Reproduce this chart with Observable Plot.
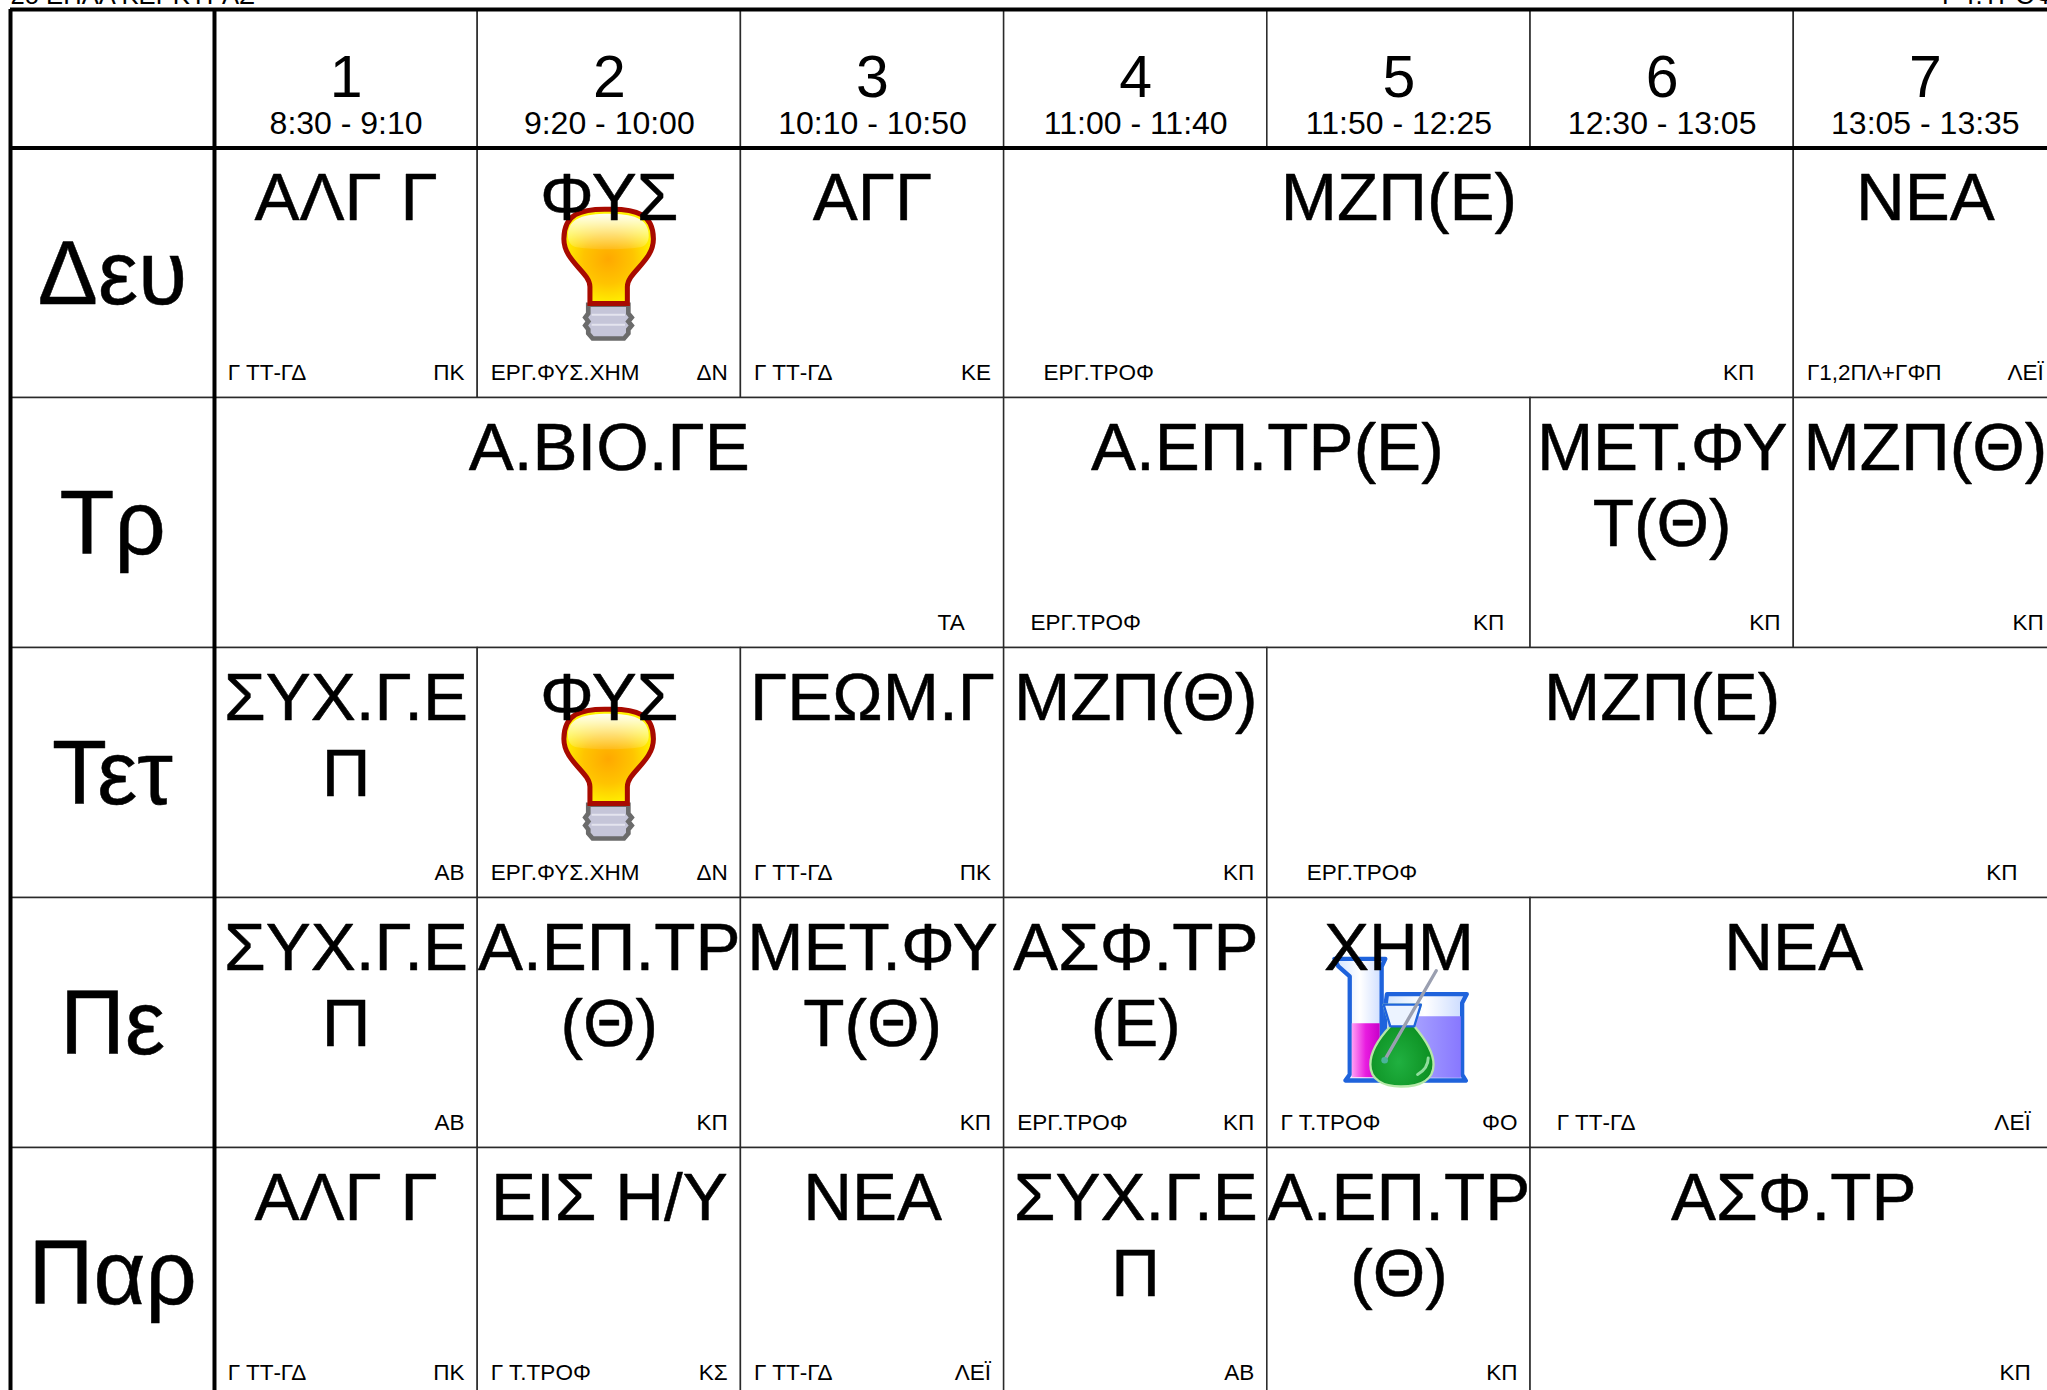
<!DOCTYPE html>
<html><head><meta charset="utf-8">
<style>html,body{margin:0;padding:0;background:#fff;overflow:hidden}svg{display:block}</style>
<script src="https://cdn.jsdelivr.net/npm/d3@7"></script>
<script src="https://cdn.jsdelivr.net/npm/@observablehq/plot@0.6"></script>
</head><body><div id="c"></div><script>
const days = ["Δευ","Τρ","Τετ","Πε","Παρ"];
const periods = ["1","2","3","4","5","6","7"];
const times = ["8:30 - 9:10","9:20 - 10:00","10:10 - 10:50","11:00 - 11:40","11:50 - 12:25","12:30 - 13:05","13:05 - 13:35"];
const topLeft = "2ο ΕΠΑΛ ΚΕΡΚΥΡΑΣ", topRight = "Γ Τ.ΤΡΟΦ";
// [day, first period, span, subject, class/room, teacher, icon]
const lessons = [
 [0,0,1,"ΑΛΓ Γ","Γ ΤΤ-ΓΔ","ΠΚ"],[0,1,1,"ΦΥΣ","ΕΡΓ.ΦΥΣ.ΧΗΜ","ΔΝ","bulb"],[0,2,1,"ΑΓΓ","Γ ΤΤ-ΓΔ","ΚΕ"],[0,3,3,"ΜΖΠ(Ε)","ΕΡΓ.ΤΡΟΦ","ΚΠ"],[0,6,1,"ΝΕΑ","Γ1,2ΠΛ+ΓΦΠ","ΛΕΪ"],
 [1,0,3,"Α.ΒΙΟ.ΓΕ","","ΤΑ"],[1,3,2,"Α.ΕΠ.ΤΡ(Ε)","ΕΡΓ.ΤΡΟΦ","ΚΠ"],[1,5,1,"ΜΕΤ.ΦΥ\nΤ(Θ)","","ΚΠ"],[1,6,1,"ΜΖΠ(Θ)","","ΚΠ"],
 [2,0,1,"ΣΥΧ.Γ.Ε\nΠ","","ΑΒ"],[2,1,1,"ΦΥΣ","ΕΡΓ.ΦΥΣ.ΧΗΜ","ΔΝ","bulb"],[2,2,1,"ΓΕΩΜ.Γ","Γ ΤΤ-ΓΔ","ΠΚ"],[2,3,1,"ΜΖΠ(Θ)","","ΚΠ"],[2,4,3,"ΜΖΠ(Ε)","ΕΡΓ.ΤΡΟΦ","ΚΠ"],
 [3,0,1,"ΣΥΧ.Γ.Ε\nΠ","","ΑΒ"],[3,1,1,"Α.ΕΠ.ΤΡ\n(Θ)","","ΚΠ"],[3,2,1,"ΜΕΤ.ΦΥ\nΤ(Θ)","","ΚΠ"],[3,3,1,"ΑΣΦ.ΤΡ\n(Ε)","ΕΡΓ.ΤΡΟΦ","ΚΠ"],[3,4,1,"ΧΗΜ","Γ Τ.ΤΡΟΦ","ΦΟ","flask"],[3,5,2,"ΝΕΑ","Γ ΤΤ-ΓΔ","ΛΕΪ"],
 [4,0,1,"ΑΛΓ Γ","Γ ΤΤ-ΓΔ","ΠΚ"],[4,1,1,"ΕΙΣ Η/Υ","Γ Τ.ΤΡΟΦ","ΚΣ"],[4,2,1,"ΝΕΑ","Γ ΤΤ-ΓΔ","ΛΕΪ"],[4,3,1,"ΣΥΧ.Γ.Ε\nΠ","","ΑΒ"],[4,4,1,"Α.ΕΠ.ΤΡ\n(Θ)","","ΚΠ"],[4,5,2,"ΑΣΦ.ΤΡ","","ΚΠ"]
];

const bulbSvg = `<svg xmlns="http://www.w3.org/2000/svg" viewBox="180 105 290 410">
<defs><radialGradient id="g" gradientUnits="userSpaceOnUse" cx="325" cy="265" r="135"><stop offset="0" stop-color="#ffa800"/><stop offset=".55" stop-color="#ffc400"/><stop offset="1" stop-color="#fff000"/></radialGradient>
<linearGradient id="h" x1="0" y1="0" x2="0" y2="1"><stop offset="0" stop-color="#fff" stop-opacity=".95"/><stop offset="1" stop-color="#fff" stop-opacity=".1"/></linearGradient></defs>
<path d="M265 402L385 402L385 428L395 440L385 452L395 464L385 476L385 488L372 503L278 503L265 488L265 476L256 464L265 452L256 440L265 428Z" fill="#c5c5d8" stroke="#6b6b6b" stroke-width="14"/>
<path d="M275 432H375M275 462H375" stroke="#e4e4ee" stroke-width="6"/>
<path d="M325 116C240 114 192 132 192 205C192 272 270 305 270 348L270 398L382 398L382 348C382 305 460 272 460 205C460 132 410 114 325 116Z" fill="url(#g)" stroke="#a80a00" stroke-width="15"/>
<path d="M325 130C255 130 204 142 204 195C204 215 215 228 230 230C290 238 360 238 420 230C436 228 446 215 446 195C446 142 395 130 325 130Z" fill="url(#h)"/>
</svg>`;
const flaskSvg = `<svg xmlns="http://www.w3.org/2000/svg" viewBox="235 160 430 410">
<defs><linearGradient id="p" x1="0" x2="1" y1="0" y2="0"><stop offset="0" stop-color="#ffa0f4"/><stop offset=".5" stop-color="#e81ce0"/><stop offset="1" stop-color="#c800c8"/></linearGradient>
<linearGradient id="c" x1="0" x2="1" y1="0" y2="0"><stop offset="0" stop-color="#cfe2ff"/><stop offset=".5" stop-color="#ffffff"/><stop offset="1" stop-color="#c6d8ff"/></linearGradient>
<linearGradient id="v" x1="0" x2="1" y1="0" y2="0"><stop offset="0" stop-color="#b7b7ff"/><stop offset="1" stop-color="#8878ff"/></linearGradient>
<radialGradient id="gr" cx=".45" cy=".7" r=".6"><stop offset="0" stop-color="#20b040"/><stop offset="1" stop-color="#0a8c1e"/></radialGradient></defs>
<path d="M250 172L403 172L392 195L392 520L404 538L283 538L296 520L296 225L262 195Z" fill="url(#c)" stroke="#1f63dc" stroke-width="13" stroke-linejoin="round"/>
<path d="M302 366H386V528H302Z" fill="url(#p)"/>
<path d="M408 278L648 278L634 305L634 520L645 538L395 538L405 300Z" fill="url(#c)" stroke="#1f63dc" stroke-width="13" stroke-linejoin="round"/>
<path d="M410 345H630V530H410Z" fill="url(#v)"/>
<path d="M398 310L510 310L490 375C520 410 548 450 548 490C548 535 510 556 450 556C395 556 358 535 358 490C358 450 385 410 418 375Z" fill="url(#gr)" stroke="#b6e8a8" stroke-width="7" stroke-linejoin="round"/>
<path d="M398 310L510 310L490 375L418 375Z" fill="#ecf3ff" stroke="#1f63dc" stroke-width="7" stroke-linejoin="round"/>
<path d="M500 520C525 505 532 490 532 470" stroke="#8fdc9c" stroke-width="9" fill="none" stroke-linecap="round"/>
<path d="M400 478L556 208" stroke="#9a9fb0" stroke-width="10" stroke-linecap="round"/>
<circle cx="401" cy="477" r="10" fill="#4bb39a"/>
</svg>`;
const icons = {bulb: bulbSvg, flask: flaskSvg};
const uri = s => "data:image/svg+xml," + encodeURIComponent(s);

const cells = lessons.map(([d,p,s,title,room,teacher,icon]) => ({d,p,s,title,room,teacher,icon}));
const colLeftEdge = -0.775, rowTopEdge = -0.554, rightHeadingPos = 6.563;
const font = "'Liberation Sans',Arial,sans-serif";
const line = "#2a2a2a";

const chart = Plot.plot({
  width: 2047, height: 1390, margin: 0,
  style: {fontFamily: font, background: "#fff", color: "#000"},
  x: {type: "linear", domain: [-0.813, 6.964], range: [0, 2047], axis: null},
  y: {type: "linear", domain: [-0.59, 4.97], range: [0, 1390], axis: null},
  marks: [
    Plot.rect(periods, {x1: (_, i) => i, x2: (_, i) => i + 1, y1: rowTopEdge, y2: 0, fill: "#fff", stroke: line, strokeWidth: 1.5}),
    Plot.rect(days, {x1: colLeftEdge, x2: 0, y1: (_, i) => i, y2: (_, i) => i + 1, fill: "#fff", stroke: line, strokeWidth: 1.5}),
    Plot.rect(cells, {x1: "p", x2: c => c.p + c.s, y1: "d", y2: c => c.d + 1, fill: "#fff", stroke: line, strokeWidth: 1.5}),
    Plot.image(cells.filter(c => c.icon === "bulb"), {x: c => c.p + 0.5, y: c => c.d + 0.5, dx: -1, dy: 1, src: c => uri(icons[c.icon]), width: 97, height: 137, preserveAspectRatio: "xMidYMid meet"}),
    Plot.image(cells.filter(c => c.icon === "flask"), {x: c => c.p + 0.5, y: c => c.d + 0.5, dx: 2, dy: 0, src: c => uri(icons[c.icon]), width: 143, height: 137, preserveAspectRatio: "xMidYMid meet"}),
    Plot.ruleX([colLeftEdge, 0], {x: d => d, y1: rowTopEdge, y2: 4.97, stroke: "#000", strokeWidth: 4}),
    Plot.ruleY([rowTopEdge, 0], {y: d => d, x1: colLeftEdge, x2: 6.964, stroke: "#000", strokeWidth: 4}),
    Plot.text(periods, {x: (_, i) => i + 0.5, y: -0.278, text: d => d, fontSize: 59, textAnchor: "middle", lineAnchor: "middle", fill: "#000"}),
    Plot.text(times, {x: (_, i) => i + 0.5, y: -0.098, text: d => d, fontSize: 32, textAnchor: "middle", lineAnchor: "middle", fill: "#000"}),
    Plot.text(days, {x: colLeftEdge / 2, y: (_, i) => i + 0.5, text: d => d, dy: 2, fontSize: 90, textAnchor: "middle", lineAnchor: "middle", fill: "#000", stroke: "#000", strokeWidth: 0.5}),
    Plot.text(cells, {x: c => c.p + c.s / 2, y: "d", text: "title", dy: 18, fontSize: 67.5, lineHeight: 1.13, textAnchor: "middle", lineAnchor: "top", fill: "#000", stroke: "#000", strokeWidth: 0.5}),
    Plot.text(cells, {x: c => c.p + 0.05 * c.s, y: c => c.d + 1, text: "room", dy: -25, fontSize: 22.5, textAnchor: "start", lineAnchor: "middle", fill: "#000"}),
    Plot.text(cells, {x: c => c.p + c.s - 0.05 * c.s, y: c => c.d + 1, text: "teacher", dy: -25, fontSize: 22.5, textAnchor: "end", lineAnchor: "middle", fill: "#000"}),
    Plot.text([topLeft], {x: colLeftEdge, y: rowTopEdge, text: d => d, dy: -6, fontSize: 25.6, textAnchor: "start", lineAnchor: "bottom", fill: "#000"}),
    Plot.text([topRight], {x: rightHeadingPos, y: rowTopEdge, text: d => d, dy: -6, fontSize: 25.6, textAnchor: "start", lineAnchor: "bottom", fill: "#000"})
  ]
});
document.getElementById("c").appendChild(chart);
</script></body></html>
